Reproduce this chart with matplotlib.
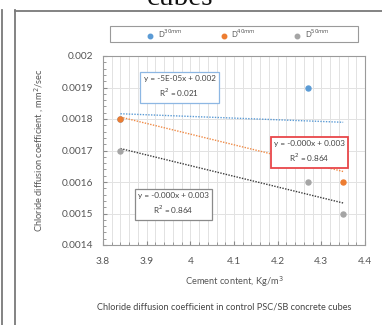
import numpy as np
import matplotlib
matplotlib.use("Agg")
import matplotlib.pyplot as plt
from matplotlib.lines import Line2D
from matplotlib.patches import Rectangle
from matplotlib.ticker import MultipleLocator, FuncFormatter

plt.rcParams['font.family'] = ['Lato', 'DejaVu Sans']

# Cement content (kg/m3) and chloride diffusion coefficient (mm2/sec)
cement = [3.84, 4.27, 4.35]
d30 = [0.0018, 0.0019, 0.0017]
d40 = [0.0018, 0.0017, 0.0016]
d50 = [0.0017, 0.0016, 0.0015]
series_labels = ['D$^{30mm}$', 'D$^{40mm}$', 'D$^{50mm}$']
eq_labels = ['y = -5E-05x + 0.002\nR$^2$ = 0.021',
             'y = -0.000x + 0.003\nR$^2$ = 0.864',
             'y = -0.000x + 0.003\nR$^2$ = 0.864']

W, H = 382, 325
fig = plt.figure(figsize=(W / 100, H / 100), dpi=100)

def fx(px):
    return px / W

def fy(py):
    return 1 - py / H

# page frame around the figure
frame_c = '#7a7a7a'
fig.add_artist(Line2D([fx(1.5), fx(1.5)], [fy(10), fy(326)], color=frame_c, lw=1.3))
fig.add_artist(Line2D([fx(14.5), fx(14.5)], [fy(10), fy(326)], color=frame_c, lw=1.3))
fig.add_artist(Line2D([fx(14.5), fx(383)], [fy(10.5), fy(10.5)], color=frame_c, lw=1.3))
fig.text(fx(180), fy(5), 'cubes', family=['Liberation Serif', 'DejaVu Serif'],
         fontsize=21, ha='center', va='baseline', color='#111111')

ax = fig.add_axes([fx(103), fy(245), (365 - 103) / W, (245 - 56) / H])

colors = ['#5B9BD5', '#ED7D31', '#A5A5A5']
trend_colors = ['#5B9BD5', '#F08A45', '#3a3a3a']
handles = []
for ys, c, tc, lab in zip([d30, d40, d50], colors, trend_colors, series_labels):
    h, = ax.plot(cement, ys, 'o', color=c, ms=3.6, mec=c, lw=0, label=lab, zorder=3)
    handles.append(h)
    k, b = np.polyfit(cement, ys, 1)
    xs = np.array([min(cement), max(cement)])
    ax.plot(xs, k * xs + b, ls=(0, (1, 1)), color=tc, lw=1.0, zorder=2)

ax.set_xlim(3.8, 4.4)
ax.set_ylim(0.0014, 0.002)
ax.xaxis.set_major_locator(MultipleLocator(0.1))
ax.xaxis.set_minor_locator(MultipleLocator(0.02))
ax.yaxis.set_major_locator(MultipleLocator(0.0001))
ax.yaxis.set_minor_locator(MultipleLocator(0.00002))
ax.xaxis.set_major_formatter(FuncFormatter(lambda v, p: f'{v:g}'))
ax.yaxis.set_major_formatter(FuncFormatter(lambda v, p: f'{v:.4f}'.rstrip('0')))

ax.grid(which='major', color='#e2e2e2', lw=0.7)
ax.grid(which='minor', axis='x', color='#e2e2e2', lw=0.7)
ax.set_axisbelow(True)
for s in ax.spines.values():
    s.set_color('#9a9a9a')
    s.set_linewidth(0.8)
ax.tick_params(which='both', direction='in', color='#8a8a8a', labelsize=7.3,
               labelcolor='#555555')
ax.tick_params(which='major', length=3, pad=7)
ax.tick_params(which='minor', length=2.5)
ax.tick_params(axis='x', which='major', pad=9)

ax.set_xlabel('Cement content, Kg/m$^3$', fontsize=6.7, color='#555555', labelpad=6)
ax.set_ylabel('Chloride diffusion coefficient , mm$^2$/sec', fontsize=6.7,
              color='#555555', labelpad=11)

box_pos = [(0.292, 0.836), (0.788, 0.492), (0.269, 0.217)]
box_edges = ['#8db7e3', '#e8474a', '#8a8a8a']
box_lw = [0.9, 1.3, 0.9]
for (bx, by), txt, ec, lw in zip(box_pos, eq_labels, box_edges, box_lw):
    ax.text(bx, by, txt, transform=ax.transAxes, ha='center', va='center',
            fontsize=5.9, color='#444444', linespacing=1.5,
            bbox=dict(boxstyle='square,pad=0.42', fc='white', ec=ec, lw=lw), zorder=4)

# legend frame spanning the top of the plot
fig.add_artist(Rectangle((fx(110), fy(42)), (358 - 110) / W, 16 / H,
                         transform=fig.transFigure, fc='white', ec='#9a9a9a', lw=0.8))
fig.legend(handles=handles, loc='center', ncol=3,
           bbox_to_anchor=(fx(238), fy(34)),
           fontsize=5.5, frameon=False, handletextpad=0.5, labelcolor='#555555',
           markerscale=0.9, handlelength=1.0, columnspacing=4.9)

fig.text(fx(224), fy(307), 'Chloride diffusion coefficient in control PSC/SB concrete cubes',
         fontsize=6.6, color='#444444', ha='center', va='center')

fig.savefig('out.png', dpi=100)
